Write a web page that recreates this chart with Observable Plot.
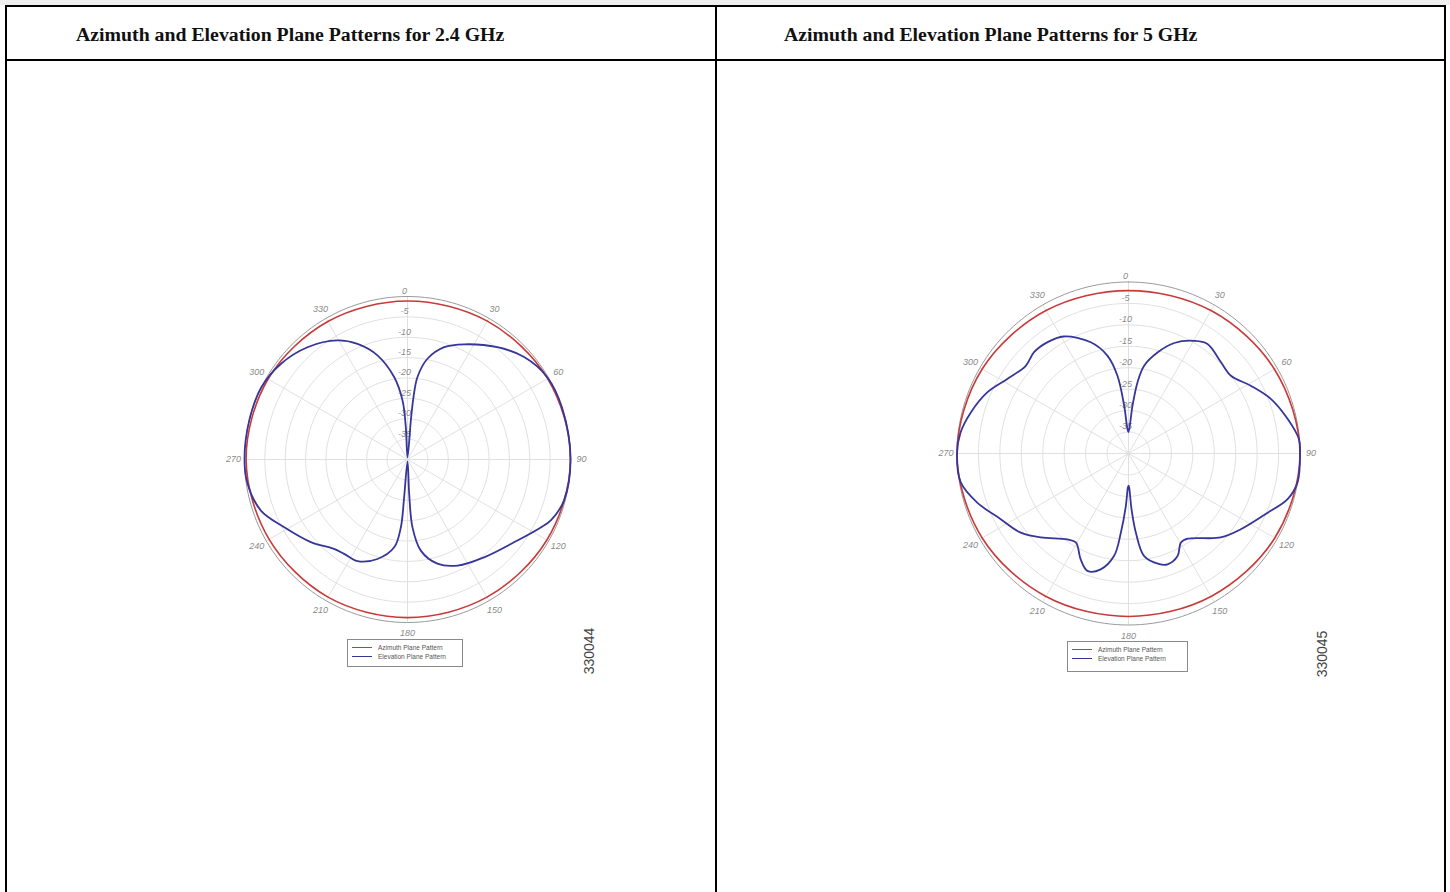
<!DOCTYPE html>
<html><head><meta charset="utf-8">
<script src="https://cdn.jsdelivr.net/npm/d3@7"></script>
<script src="https://cdn.jsdelivr.net/npm/@observablehq/plot@0.6"></script>
<style>
body{margin:0;width:1450px;height:892px;overflow:hidden;background:#fff;position:relative;font-family:"Liberation Sans",Arial,sans-serif}
.abs{position:absolute}
.hdr{position:absolute;font-family:"Liberation Serif","Times New Roman",serif;font-weight:bold;font-size:19.8px;line-height:20px;color:#111;white-space:nowrap}
.legend{position:absolute;border:1px solid #8a8a8a;background:#fff;box-sizing:border-box;font-size:6.5px;color:#555;line-height:9px;padding:3px 4px}
.legend .row{display:flex;align-items:center;white-space:nowrap}
.legend .sw{display:inline-block;width:20px;height:0;border-top:1.4px solid;margin-right:6px}
.vid{position:absolute;font-family:"Liberation Sans",Arial,sans-serif;font-size:14px;color:#444;transform:translate(-50%,-50%) rotate(-90deg);white-space:nowrap}
svg{position:absolute}
</style></head><body>
<div class="abs" style="left:0;top:0;width:1450px;height:5px;background:#efefef"></div>
<div class="abs" style="left:5px;top:5px;width:1437px;height:900px;border:2px solid #000;box-sizing:content-box;border-bottom:none"></div>
<div class="abs" style="left:5px;top:59px;width:1441px;height:2px;background:#000"></div>
<div class="abs" style="left:715px;top:5px;width:2px;height:900px;background:#000"></div>
<div class="hdr" id="h1" style="left:76px;top:24px"></div>
<div class="hdr" id="h2" style="left:784px;top:24px"></div>
<div id="charts"></div>
<script>
// ---- data ----
const titles = ["Azimuth and Elevation Plane Patterns for 2.4 GHz", "Azimuth and Elevation Plane Patterns for 5 GHz"];
const figureIds = ["330044", "330045"];
const seriesNames = ["Azimuth Plane Pattern", "Elevation Plane Pattern"];
const angleTicks = [30, 60, 90, 120, 150, 180, 210, 240, 270, 300, 330];
const angleLabels = ["30", "60", "90", "120", "150", "180", "210", "240", "270", "300", "330"];
const spokeAngles = [0, 30, 60, 90, 120, 150, 180, 210, 240, 270, 300, 330];
const dbTicks = [0, -5, -10, -15, -20, -25, -30, -35];
const dbLabels = ["0", "-5", "-10", "-15", "-20", "-25", "-30", "-35"];
const dbMin = -40;

// 2.4 GHz
const az24Angle = [0, 30, 60, 90, 120, 150, 180, 210, 240, 270, 300, 330];
const az24Db = [-1.1, -0.8, -0.3, 0, -0.5, -1.0, -1.2, -1.0, -0.8, -0.4, -0.5, -0.9];
const el24Angle = [0, 4.9, 5.5, 6.9, 11.2, 18.1, 26.2, 38.7, 48.7, 59.5, 71.5, 90, 104.7, 113, 117, 126.4, 141.9, 154.7, 164, 171.7, 175.8, 177.2, 180, 185.1, 185.6, 188.6, 196.8, 206.2, 213.9, 219.4, 229.5, 241.2, 250.8, 261.4, 270, 283.8, 296.3, 307, 318.3, 329.5, 336.6, 343.9, 350.8, 355.2, 357];
const el24Db = [-39.5, -30.4, -24.6, -19.6, -14.8, -11.0, -8.5, -4.7, -1.9, -0.2, 0, 0, -0.3, -1.8, -3.3, -6.5, -9.5, -11.2, -13.4, -17.4, -23.3, -31.6, -39.5, -30.7, -23.3, -18.2, -14.5, -12.2, -12.1, -11.6, -8.8, -5.5, -1.9, -0.3, 0, 0, 0, -1.05, -3.1, -6.1, -9.1, -13.4, -19.5, -25.5, -32.1];

// 5 GHz
const az5Angle = [0, 30, 60, 90, 120, 150, 180, 210, 240, 270, 300, 330];
const az5Db = [-2.0, -1.5, -0.7, 0, -0.6, -1.5, -2.0, -1.5, -0.6, 0, -0.6, -1.5];
const el5Angle = [0, 4.8, 7.2, 10.1, 16, 22.5, 30.2, 35.8, 45.4, 52.8, 61, 69.1, 77.8, 85.2, 90, 99.7, 106, 113, 124, 132.3, 145.2, 149.5, 154.4, 160.6, 164.7, 171.3, 174.7, 176.9, 178.9, 180, 181.1, 183, 185.5, 188, 193.5, 199.3, 204.3, 210.6, 215.5, 226.2, 233.7, 242.8, 252, 260.2, 270, 277, 284.6, 293.4, 301.6, 310.5, 317, 324, 331, 341.3, 347.9, 351.9, 354.8, 357.6];
const el5Db = [-35, -28.8, -23.3, -19.2, -15.5, -12.1, -9.6, -8.5, -9.7, -10, -7.4, -4.4, -2.0, -0.1, 0, 0, -1.4, -4.7, -8.4, -10.9, -15.8, -15.9, -13.5, -12.6, -13.3, -15.8, -21.5, -27, -32.1, -32.5, -32, -27.5, -21.5, -15.9, -12.2, -11, -12.9, -15.9, -15.4, -11.7, -8.8, -6.5, -2.9, -0.3, 0, -0.5, -2, -4.1, -6.8, -8.5, -7.7, -7.9, -8.8, -12.6, -16.7, -21.7, -28.8, -34.3];

const colors = {azimuth: "#c83a3a", elevation: "#36369a", ring: "#dcdcdc", outer: "#9a9a9a", label: "#8a8a8a"};

// ---- drawing ----
const toXY = (a, db) => {
  const r = Math.max(0, db - dbMin);
  const t = a * Math.PI / 180;
  return {x: r * Math.sin(t), y: r * Math.cos(t)};
};
const seriesTable = (angles, dbs) => angles.map((a, i) => ({angle: a, db: dbs[i], ...toXY(a, dbs[i])}));

function chart({cx, cy, R, azA, azD, elA, elD, title, id, hdrEl, legend, vidPos}) {
  document.getElementById(hdrEl).textContent = title;
  const half = 200;
  const k = (0 - dbMin) / R; // units per pixel
  const D = half * k;
  const rings = [];
  for (const db of dbTicks) for (let a = 0; a <= 360; a += 2) rings.push({db, ...toXY(a, db)});
  const spokes = spokeAngles.map(a => ({x1: 0, y1: 0, ...(({x, y}) => ({x2: x, y2: y}))(toXY(a, 0))}));
  const angleText = angleTicks.map((a, i) => {
    const r = (0 - dbMin) + 11 * k;
    const t = a * Math.PI / 180;
    return {x: r * Math.sin(t), y: r * Math.cos(t), text: angleLabels[i]};
  });
  const dbText = dbTicks.map((db, i) => ({x: 0, y: (db - dbMin) + 5.5 * k, text: dbLabels[i]}));
  const svg = Plot.plot({
    width: half * 2, height: half * 2,
    margin: 0,
    x: {domain: [-D, D], axis: null},
    y: {domain: [-D, D], axis: null},
    style: {background: "transparent", overflow: "visible"},
    marks: [
      Plot.line(rings.filter(d => d.db !== 0), {x: "x", y: "y", z: "db", stroke: colors.ring, strokeWidth: 0.9}),
      Plot.link(spokes, {x1: "x1", y1: "y1", x2: "x2", y2: "y2", stroke: colors.ring, strokeWidth: 0.9}),
      Plot.line(rings.filter(d => d.db === 0), {x: "x", y: "y", stroke: colors.outer, strokeWidth: 1}),
      Plot.text(angleText, {x: "x", y: "y", text: "text", fontStyle: "italic", fontSize: 9, fill: colors.label, fontFamily: "Liberation Sans, Arial, sans-serif"}),
      Plot.text(dbText, {x: "x", y: "y", text: "text", dx: -3, fontStyle: "italic", fontSize: 9, fill: colors.label, fontFamily: "Liberation Sans, Arial, sans-serif"}),
      Plot.line(seriesTable(azA, azD), {x: "x", y: "y", curve: "catmull-rom-closed", stroke: colors.azimuth, strokeWidth: 1.6}),
      Plot.line(seriesTable(elA, elD), {x: "x", y: "y", curve: "catmull-rom-closed", stroke: colors.elevation, strokeWidth: 1.8})
    ]
  });
  svg.style.left = (cx - half) + "px";
  svg.style.top = (cy - half) + "px";
  const host = document.getElementById("charts");
  host.appendChild(svg);
  const lg = document.createElement("div");
  lg.className = "legend";
  Object.assign(lg.style, {left: legend[0] + "px", top: legend[1] + "px", width: legend[2] + "px", height: legend[3] + "px"});
  lg.innerHTML = `<div class="row"><span class="sw" style="border-color:${colors.azimuth}"></span>${seriesNames[0]}</div>` +
                 `<div class="row"><span class="sw" style="border-color:${colors.elevation}"></span>${seriesNames[1]}</div>`;
  host.appendChild(lg);
  const v = document.createElement("div");
  v.className = "vid";
  v.textContent = id;
  v.style.left = vidPos[0] + "px"; v.style.top = vidPos[1] + "px";
  host.appendChild(v);
}

chart({cx: 406.5, cy: 459, R: 163, azA: az24Angle, azD: az24Db, elA: el24Angle, elD: el24Db, title: titles[0], id: figureIds[0], hdrEl: "h1", legend: [347, 639, 116, 28], vidPos: [589, 651]});
chart({cx: 1127.7, cy: 452.7, R: 171.5, azA: az5Angle, azD: az5Db, elA: el5Angle, elD: el5Db, title: titles[1], id: figureIds[1], hdrEl: "h2", legend: [1067, 641, 121, 31], vidPos: [1322, 654]});
</script>
</body></html>
